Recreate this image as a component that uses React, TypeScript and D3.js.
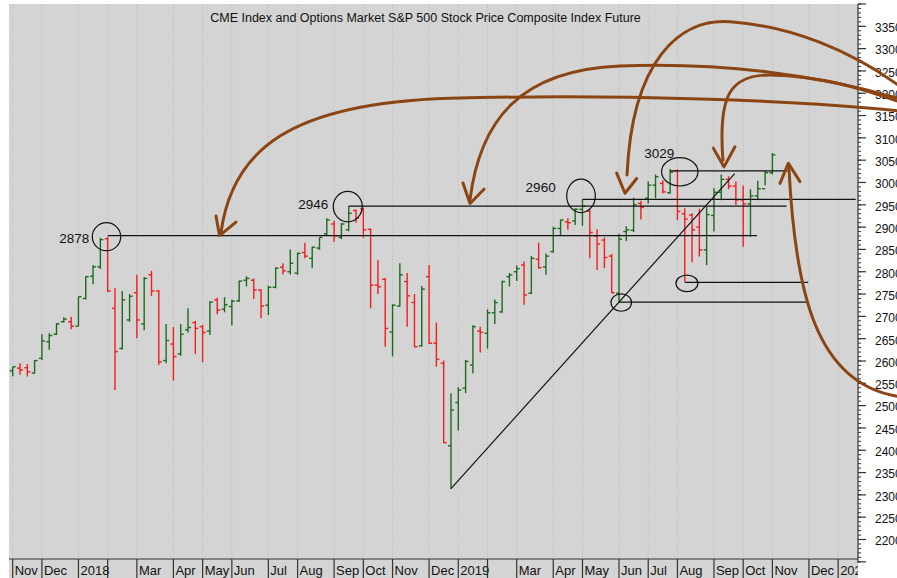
import React from 'react';
import * as d3 from 'd3';

const W = 897;
const H = 578;

const TITLE = 'CME Index and Options Market S&P 500 Stock Price Composite Index Future';

// Weekly bars (week ending Friday)
const DATES = [
  '2017-11-03','2017-11-10','2017-11-17','2017-11-24','2017-12-01','2017-12-08','2017-12-15','2017-12-22','2017-12-29',
  '2018-01-05','2018-01-12','2018-01-19','2018-01-26','2018-02-02','2018-02-09','2018-02-16','2018-02-23','2018-03-02',
  '2018-03-09','2018-03-16','2018-03-23','2018-03-30','2018-04-06','2018-04-13','2018-04-20','2018-04-27','2018-05-04',
  '2018-05-11','2018-05-18','2018-05-25','2018-06-01','2018-06-08','2018-06-15','2018-06-22','2018-06-29','2018-07-06',
  '2018-07-13','2018-07-20','2018-07-27','2018-08-03','2018-08-10','2018-08-17','2018-08-24','2018-08-31','2018-09-07',
  '2018-09-14','2018-09-21','2018-09-28','2018-10-05','2018-10-12','2018-10-19','2018-10-26','2018-11-02','2018-11-09',
  '2018-11-16','2018-11-23','2018-11-30','2018-12-07','2018-12-14','2018-12-21','2018-12-28',
  '2019-01-04','2019-01-11','2019-01-18','2019-01-25','2019-02-01','2019-02-08','2019-02-15','2019-02-22','2019-03-01',
  '2019-03-08','2019-03-15','2019-03-22','2019-03-29','2019-04-05','2019-04-12','2019-04-19','2019-04-26','2019-05-03',
  '2019-05-10','2019-05-17','2019-05-24','2019-05-31','2019-06-07','2019-06-14','2019-06-21','2019-06-28','2019-07-05',
  '2019-07-12','2019-07-19','2019-07-26','2019-08-02','2019-08-09','2019-08-16','2019-08-23','2019-08-30','2019-09-06',
  '2019-09-13','2019-09-20','2019-09-27','2019-10-04','2019-10-11','2019-10-18','2019-10-25','2019-11-01',
];

const OPEN = [
  2578,2584,2585,2573,2606,2643,2660,2688,2688,
  2678,2740,2790,2811,2874,2718,2628,2692,2753,
  2683,2793,2757,2601,2638,2616,2670,2686,2677,
  2667,2737,2716,2722,2735,2781,2781,2759,2725,
  2765,2810,2800,2797,2843,2830,2853,2885,2907,
  2877,2894,2937,2941,2895,2770,2783,2665,2723,
  2778,2731,2634,2789,2640,2595,2410,
  2507,2539,2591,2667,2662,2708,2710,2789,2800,
  2815,2752,2828,2811,2845,2897,2912,2914,2940,
  2936,2880,2871,2835,2752,2890,2893,2953,2965,
  2994,2998,2977,3026,2930,2927,2900,2849,2926,
  2978,3007,2992,2961,2952,2970,2986,3022,
];

const HIGH = [
  2587,2595,2593,2602,2660,2662,2685,2698,2699,
  2744,2790,2815,2876,2878,2763,2757,2750,2793,
  2788,2802,2759,2683,2676,2683,2718,2690,2681,
  2734,2742,2743,2737,2780,2790,2785,2761,2769,
  2810,2819,2850,2843,2865,2856,2877,2920,2914,
  2909,2947,2940,2944,2897,2826,2786,2727,2819,
  2797,2750,2768,2815,2686,2601,2528,
  2541,2602,2680,2677,2716,2738,2780,2797,2814,
  2823,2835,2865,2841,2901,2917,2920,2942,2962,
  2940,2895,2877,2840,2885,2902,2966,2959,3002,
  3018,3005,3030,3029,2942,2931,2941,2945,2987,
  3018,3014,3002,2993,2985,3004,3026,3066,
];

const LOW = [
  2566,2569,2565,2572,2602,2625,2658,2686,2671,
  2678,2738,2772,2806,2755,2535,2626,2688,2651,
  2669,2746,2591,2595,2556,2612,2664,2616,2597,
  2658,2705,2709,2680,2732,2767,2739,2696,2703,
  2763,2794,2794,2793,2830,2808,2849,2882,2867,
  2873,2891,2910,2876,2718,2750,2632,2610,2722,
  2677,2631,2632,2638,2587,2416,2314,
  2444,2528,2572,2619,2628,2683,2708,2767,2779,
  2726,2750,2807,2793,2843,2882,2894,2905,2903,
  2830,2804,2808,2752,2731,2869,2889,2917,2953,
  2965,2976,2975,2916,2778,2821,2834,2815,2890,
  2960,2985,2950,2856,2878,2960,2994,3018,
];

const CLOSE = [
  2587,2580,2576,2601,2645,2657,2683,2694,2678,
  2744,2789,2811,2872,2757,2621,2737,2745,2692,
  2785,2757,2598,2646,2610,2660,2675,2673,2664,
  2732,2714,2726,2734,2779,2785,2759,2723,2765,
  2808,2802,2819,2841,2835,2855,2877,2916,2880,
  2907,2931,2920,2894,2770,2766,2673,2725,2793,
  2746,2632,2761,2640,2604,2417,2490,
  2535,2599,2677,2664,2708,2731,2778,2793,2807,
  2748,2830,2809,2835,2897,2916,2910,2940,2947,
  2888,2862,2832,2753,2873,2894,2950,2944,2994,
  3013,2979,3023,2935,2918,2894,2849,2928,2978,
  3007,2992,2961,2952,2970,2986,3022,3062,
];

const Y_TICK_LABELS = [3350,3300,3250,3200,3150,3100,3050,3000,2950,2900,2850,2800,2750,2700,2650,2600,2550,2500,2450,2400,2350,2300,2250,2200];

const MONTH_STARTS = [
  '2017-11-01','2017-12-01','2018-01-01','2018-02-01','2018-03-01','2018-04-01','2018-05-01','2018-06-01','2018-07-01',
  '2018-08-01','2018-09-01','2018-10-01','2018-11-01','2018-12-01','2019-01-01','2019-02-01','2019-03-01','2019-04-01',
  '2019-05-01','2019-06-01','2019-07-01','2019-08-01','2019-09-01','2019-10-01','2019-11-01','2019-12-01','2020-01-01',
];
const MONTH_LABELS = [
  'Nov','Dec','2018','','Mar','Apr','May','Jun','Jul',
  'Aug','Sep','Oct','Nov','Dec','2019','','Mar','Apr',
  'May','Jun','Jul','Aug','Sep','Oct','Nov','Dec','2020',
];

// Annotations in data units: [week index from first bar, price]
const LEVEL_LINES = [
  { from: 13, to: 101.9, price: 2881 },
  { from: 46, to: 105.95, price: 2947 },
  { from: 78, to: 115.4, price: 2962 },
  { from: 90, to: 106.1, price: 3026 },
  { from: 92, to: 108.9, price: 2776 },
  { from: 83, to: 108.9, price: 2732 },
];

const CIRCLES = [
  { w: 12.84, price: 2878.5, rx: 14.2, ry: 14 },
  { w: 45.87, price: 2946, rx: 14.5, ry: 15.2 },
  { w: 77.8, price: 2970, rx: 14.3, ry: 16.7 },
  { w: 91.32, price: 3024, rx: 18.2, ry: 14.2 },
  { w: 92.3, price: 2774, rx: 11, ry: 8.2 },
  { w: 83.31, price: 2731, rx: 10.3, ry: 8.7 },
];

const PRICE_LABELS = [
  { text: '2878', w: 10.49, price: 2876 },
  { text: '2946', w: 43.2, price: 2951 },
  { text: '2960', w: 74.33, price: 2989 },
  { text: '3029', w: 90.57, price: 3065 },
];

const TREND = [[60.0, 2314], [98.84, 3020]];

const ARROWS = [
  {
    shaft: [[28.51, 2887], [30.02, 3073], [37.96, 3178], [59.86, 3189], [83.14, 3198], [107.78, 3185], [121.5, 3160]],
    head: [[27.83, 2925], [28.31, 2881], [30.57, 2911]],
  },
  {
    shaft: [[62.6, 2961], [63.97, 3140], [69.45, 3252], [83.14, 3261], [96.83, 3270], [110.52, 3241], [121.5, 3187]],
    head: [[61.64, 2999], [62.6, 2953], [64.52, 2985]],
  },
  {
    shaft: [[84.1, 3017], [84.78, 3274], [91.35, 3369], [98.2, 3360], [106.41, 3351], [114.62, 3297], [121.5, 3215]],
    head: [[82.68, 3021], [83.82, 2976], [85.42, 3009]],
  },
  {
    shaft: [[97.23, 3050], [96.55, 3196], [98.2, 3241], [103.67, 3241], [110.52, 3239], [115.99, 3212], [121.5, 3180]],
    head: [[95.91, 3077], [97.37, 3035], [98.88, 3080]],
  },
  {
    shaft: [[106.27, 3032], [107.09, 2759], [109.83, 2546], [121.5, 2520]],
    head: [[105.04, 2998], [106.18, 3043], [107.77, 3002]],
  },
];

const parse = d3.utcParse('%Y-%m-%d');
const START = parse(DATES[0])!.getTime();
const WEEK = 7 * 864e5;

const PLOT_L = 9;
const PLOT_R = 858;
const PLOT_T = 4;
const BAND_T = 559;

const FONT = '"Liberation Sans", Arial, Helvetica, sans-serif';

export default function App() {
  const x = d3
    .scaleUtc()
    .domain([parse(DATES[0])!, parse(DATES[DATES.length - 1])!])
    .range([12.7, 772.4]);
  const y = d3.scaleLinear().domain([2200, 3350]).range([539.5, 26.3]);
  const xw = (w: number) => x(new Date(START + w * WEEK));

  const up = '#1d6b1d';
  const down = '#f41c1c';

  const minorTicks = d3.range(2150, 3401, 10);
  const majorTicks = d3.range(2150, 3401, 50);

  const months = MONTH_STARTS.map((m, i) => {
    const f = d3.utcFriday.ceil(parse(m)!);
    return { sx: x(f), label: MONTH_LABELS[i] };
  });

  const arrowPath = (pts: number[][]) => {
    const p = d3.path();
    p.moveTo(xw(pts[0][0]), y(pts[0][1]));
    for (let k = 1; k + 2 < pts.length; k += 3) {
      p.bezierCurveTo(
        xw(pts[k][0]), y(pts[k][1]),
        xw(pts[k + 1][0]), y(pts[k + 1][1]),
        xw(pts[k + 2][0]), y(pts[k + 2][1])
      );
    }
    return p.toString();
  };
  const headPath = (pts: number[][]) =>
    d3.line()(pts.map((q) => [xw(q[0]), y(q[1])] as [number, number])) || '';

  return (
    <svg
      width={W}
      height={H}
      style={{ position: 'absolute', left: 0, top: 0, background: '#fff' }}
      fontFamily={FONT}
    >
      <defs>
        <clipPath id="plotclip">
          <rect x={PLOT_L} y={PLOT_T} width={PLOT_R - PLOT_L} height={H - PLOT_T} />
        </clipPath>
      </defs>
      <rect x={0} y={0} width={W} height={H} fill="#ffffff" />
      <rect x={PLOT_L} y={PLOT_T} width={PLOT_R - PLOT_L} height={H - PLOT_T} fill="#d4d4d4" />

      <g clipPath="url(#plotclip)">
        {/* vertical dotted grid */}
        {months.map((m, i) => (
          <line
            key={'g' + i}
            x1={m.sx}
            x2={m.sx}
            y1={PLOT_T}
            y2={BAND_T}
            stroke="#b8b8b8"
            strokeWidth={1}
            strokeDasharray="1,2"
          />
        ))}

        {/* x axis band */}
        <line x1={PLOT_L} x2={PLOT_R} y1={BAND_T} y2={BAND_T} stroke="#333" strokeWidth={1.2} />
        {months.map((m, i) => (
          <g key={'m' + i}>
            <line x1={m.sx} x2={m.sx} y1={BAND_T} y2={H} stroke="#333" strokeWidth={1.2} />
            <text x={m.sx + 2} y={575} fontSize={13} fill="#111">
              {m.label}
            </text>
          </g>
        ))}

        {/* OHLC bars */}
        {DATES.map((d, i) => {
          const cx = x(parse(d)!);
          const col = CLOSE[i] >= OPEN[i] ? up : down;
          return (
            <g key={'b' + i} stroke={col} strokeWidth={1.4}>
              <line x1={cx} x2={cx} y1={y(HIGH[i])} y2={y(LOW[i])} />
              <line x1={cx - 3} x2={cx} y1={y(OPEN[i])} y2={y(OPEN[i])} />
              <line x1={cx} x2={cx + 3} y1={y(CLOSE[i])} y2={y(CLOSE[i])} />
            </g>
          );
        })}

        {/* level lines */}
        {LEVEL_LINES.map((l, i) => (
          <line
            key={'l' + i}
            x1={xw(l.from)}
            x2={xw(l.to)}
            y1={y(l.price)}
            y2={y(l.price)}
            stroke="#111"
            strokeWidth={1.2}
          />
        ))}

        {/* trend line */}
        <line
          x1={xw(TREND[0][0])}
          y1={y(TREND[0][1])}
          x2={xw(TREND[1][0])}
          y2={y(TREND[1][1])}
          stroke="#111"
          strokeWidth={1.2}
        />

        {/* circles */}
        {CIRCLES.map((c, i) => (
          <ellipse
            key={'c' + i}
            cx={xw(c.w)}
            cy={y(c.price)}
            rx={c.rx}
            ry={c.ry}
            fill="none"
            stroke="#111"
            strokeWidth={1.2}
          />
        ))}

        {/* price labels */}
        {PRICE_LABELS.map((p, i) => (
          <text
            key={'p' + i}
            x={xw(p.w)}
            y={y(p.price)}
            dy="0.36em"
            textAnchor="end"
            fontSize={13.5}
            fill="#111"
          >
            {p.text}
          </text>
        ))}

        <text x={425.5} y={22} textAnchor="middle" fontSize={12.5} fill="#111">
          {TITLE}
        </text>
      </g>

      {/* y axis */}
      <line x1={PLOT_R} x2={PLOT_R} y1={PLOT_T} y2={563} stroke="#333" strokeWidth={1.2} />
      {minorTicks.map((v) => (
        <line key={'mt' + v} x1={PLOT_R} x2={PLOT_R + 3} y1={y(v)} y2={y(v)} stroke="#333" strokeWidth={1} />
      ))}
      {majorTicks.map((v) => (
        <line key={'Mt' + v} x1={PLOT_R} x2={PLOT_R + 8} y1={y(v)} y2={y(v)} stroke="#333" strokeWidth={1.2} />
      ))}
      {Y_TICK_LABELS.map((v) => (
        <text key={'yl' + v} x={875} y={y(v) + 1.5} dy="0.36em" fontSize={12} fill="#111">
          {v}
        </text>
      ))}

      {/* brown arrows */}
      <g stroke="#8b4513" strokeWidth={3} fill="none" strokeLinecap="round" strokeLinejoin="round">
        {ARROWS.map((a, i) => (
          <g key={'a' + i}>
            <path d={arrowPath(a.shaft)} />
            <path d={headPath(a.head)} />
          </g>
        ))}
      </g>
    </svg>
  );
}
